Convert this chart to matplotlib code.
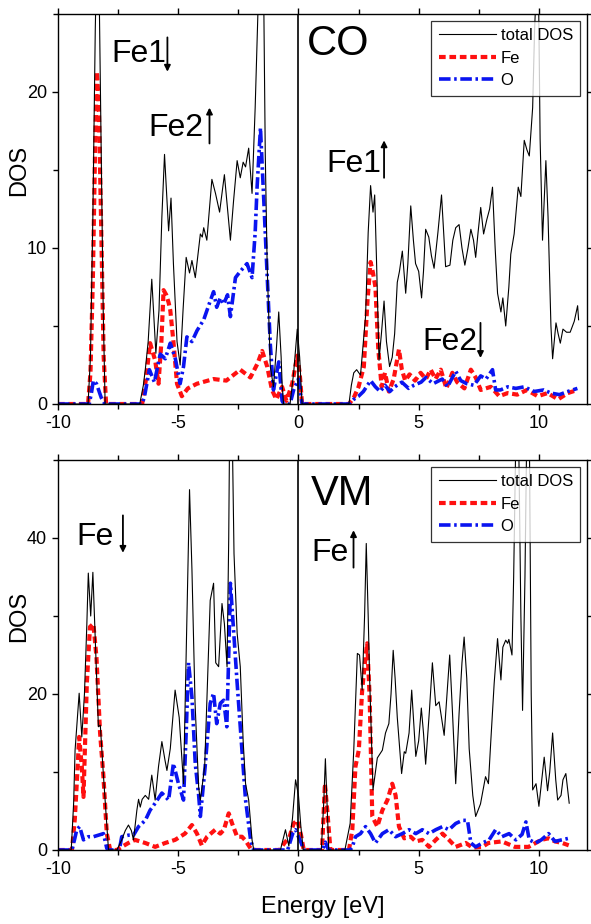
import matplotlib
matplotlib.use("Agg")
import matplotlib.pyplot as plt
from matplotlib.ticker import MultipleLocator

plt.rcParams['font.family'] = ['Liberation Sans', 'DejaVu Sans']
plt.rcParams['axes.unicode_minus'] = False

# ---------------- CO panel ----------------
co_total_E = [-10, -8.75, -8.65, -8.55, -8.45, -8.4, -8.3, -8.22, -8.12, -8.04, -6.6, -6.45, -6.37, -6.25, -6.1,
              -5.93, -5.8, -5.68, -5.57, -5.4, -5.3, -5.2, -5.05, -4.92, -4.8, -4.67, -4.53, -4.43, -4.29, -4.08,
              -4.0, -3.94, -3.81, -3.6, -3.45, -3.28, -3.08, -2.95, -2.83, -2.7, -2.55, -2.42, -2.3, -2.2, -2.07,
              -1.93, -1.8, -1.65, -1.45, -1.38, -1.3, -1.17, -1.04, -0.92, -0.82, -0.72, -0.68, -0.62, -0.35,
              -0.2, -0.05, 0.05, 0.15, 2.1, 2.2, 2.3, 2.42, 2.58, 2.79, 2.9, 3.0, 3.1, 3.17, 3.25, 3.35, 3.45,
              3.56, 3.66, 3.79, 3.9, 4.0, 4.11, 4.2, 4.32, 4.46, 4.55, 4.67, 4.78, 4.87, 5.0, 5.12, 5.2, 5.29,
              5.42, 5.53, 5.64, 5.8, 5.95, 6.12, 6.3, 6.42, 6.54, 6.68, 6.8, 6.92, 7.05, 7.17, 7.28, 7.37, 7.47,
              7.58, 7.7, 7.83, 7.95, 8.07, 8.18, 8.28, 8.42, 8.5, 8.62, 8.75, 8.83, 8.97, 9.14, 9.25, 9.39, 9.5,
              9.6, 9.74, 9.82, 9.9, 9.98, 10.05, 10.15, 10.22, 10.29, 10.38, 10.5, 10.57, 10.71, 10.8, 10.89,
              11.0, 11.15, 11.3, 11.47, 11.61, 11.65]
co_total_D = [0, 0, 3, 12, 24, 28, 28, 18, 6, 0, 0, 1.2, 2.2, 4, 8.0,
              3.25, 6, 12, 16.0, 11.1, 13.2, 9, 4, 2.5, 6, 9.4, 8.4, 9.2, 8.1, 10.9,
              10.7, 11.3, 10.5, 14.4, 13.5, 12.3, 14.7, 12.5, 10.5, 13, 15.6, 14.5, 15.5, 15.2, 16.4,
              13.5, 19, 27, 27, 16, 8.8, 2.4, 1.1, 3.5, 5.9, 3, 1.3, 0, 0,
              2, 4.8, 3, 0, 0, 1.2, 2.0, 2.2, 1.85, 5.6, 11, 14.0, 12.3, 13.4, 9, 2.8, 4.5,
              6.6, 4, 2.4, 3, 4.5, 7.8, 8.5, 9.8, 7.1, 9, 12.7, 10.5, 9.0, 8.5, 6.8, 8.5, 11.2,
              10.7, 9.5, 8.7, 11, 13.4, 8.8, 8.9, 10.5, 11.3, 11.5, 10, 8.9, 10, 11.2, 10.5, 9.4, 11,
              12.6, 10.9, 11.8, 12.5, 13.9, 10, 7.1, 5.9, 6.8, 5.0, 7.5, 9.6, 10.9, 13.9, 13.3, 16.9, 16.3,
              15.9, 19.0, 24, 27, 27, 17, 10.5, 13, 15.6, 12, 5, 2.9, 5.2, 4.5, 3.9,
              4.8, 4.6, 4.6, 5.3, 6.3, 5.4]

co_fe_E = [-10, -8.75, -8.65, -8.55, -8.45, -8.38, -8.3, -8.2, -8.1, -8.0, -6.5, -6.35, -6.17, -5.96, -5.82,
           -5.7, -5.61, -5.5, -5.4, -5.33, -5.2, -5.05, -4.85, -4.6, -4.22, -3.53, -3.0, -2.42, -2.0, -1.7,
           -1.51, -1.3, -1.1, -0.92, -0.68, -0.5, -0.26, -0.05, 0.05, 0.15, 2.1, 2.3, 2.5, 2.72, 2.87, 3.0,
           3.1, 3.2, 3.32, 3.46, 3.6, 3.76, 3.96, 4.18, 4.3, 4.44, 4.62, 4.85, 5.08, 5.3, 5.5, 5.7, 5.92,
           6.15, 6.4, 6.6, 6.9, 7.17, 7.37, 7.58, 8.0, 8.35, 8.7, 9.1, 9.5, 9.95, 10.36, 10.8, 11.2, 11.6]
co_fe_D = [0, 0, 2, 8, 17, 21.3, 19, 11, 3, 0, 0, 1.5, 3.9, 2.8, 1.3,
           4, 7.3, 7, 6.5, 6.0, 4, 1.3, 0.5, 1.0, 1.3, 1.6, 1.5, 2.2, 1.7, 2.6,
           3.4, 2.4, 0.9, 0.3, 1.1, 0.2, 1.3, 3.1, 2, 0, 0, 0.4, 1.1, 2.4, 6.6, 9.1,
           8.4, 7.5, 3.5, 1.1, 2.0, 0.8, 1.6, 3.5, 2.2, 1.5, 1.9, 1.5, 2.0, 1.6, 2.2, 1.6, 2.2,
           1.0, 2.0, 1.4, 1.0, 2.2, 1.7, 0.9, 1.1, 0.5, 0.7, 0.6, 0.9, 0.5, 0.7, 0.3, 0.7, 0.9]

co_o_E = [-10, -8.7, -8.6, -8.53, -8.4, -8.2, -8.05, -6.5, -6.4, -6.2, -5.99, -5.75, -5.54, -5.33, -5.12,
          -4.92, -4.78, -4.64, -4.43, -4.22, -3.94, -3.67, -3.53, -3.4, -3.25, -3.11, -2.95, -2.83, -2.62,
          -2.42, -2.14, -1.93, -1.8, -1.72, -1.58, -1.44, -1.3, -1.17, -1.04, -0.82, -0.68, -0.6, -0.35,
          -0.2, 0.0, 0.15, 2.1, 2.3, 2.5, 2.7, 3.0, 3.2, 3.4, 3.6, 3.8, 4.0, 4.3, 4.58, 4.8, 5.1, 5.3, 5.6,
          5.98, 6.2, 6.54, 6.75, 7.0, 7.3, 7.58, 7.8, 8.07, 8.2, 8.4, 8.7, 9.04, 9.39, 9.8, 10.2, 10.5,
          10.85, 11.2, 11.6]
co_o_D = [0, 0, 0.8, 1.5, 1.3, 0.4, 0, 0, 0.5, 2.2, 1.4, 3.2, 2.9, 3.9, 2.9,
          1.3, 2.4, 4.3, 4.0, 4.7, 5.4, 6.6, 7.2, 6.2, 6.8, 6.4, 7, 5.6, 8.1,
          8.5, 9.0, 8.1, 11, 13.9, 17.7, 13.0, 8.2, 3.8, 0.9, 2.7, 0.2, 0, 0,
          0.9, 1.6, 0, 0, 0.3, 0.5, 0.8, 1.5, 1.1, 0.8, 1.2, 0.8, 1.1, 1.4, 1.0, 1.2, 1.4, 1.7, 1.3,
          1.6, 1.1, 2.1, 1.5, 1.3, 1.2, 1.8, 1.6, 2.2, 0.9, 0.9, 1.1, 1.0, 1.1, 0.8, 0.9, 0.7,
          0.6, 0.8, 1.0]

# ---------------- VM panel ----------------
vm_total_E = [-10, -9.45, -9.35, -9.29, -9.12, -9.01, -8.9, -8.8, -8.74, -8.64, -8.55, -8.45, -8.32, -8.24,
              -8.12, -8.04, -7.9, -7.55, -7.35, -7.2, -7.07, -6.95, -6.86, -6.72, -6.65, -6.58, -6.5, -6.37,
              -6.23, -6.1, -5.96, -5.82, -5.68, -5.55, -5.47, -5.33, -5.13, -4.96, -4.78, -4.67, -4.53, -4.43,
              -4.3, -4.15, -4.08, -3.9, -3.8, -3.67, -3.53, -3.44, -3.32, -3.18, -3.08, -2.97, -2.9, -2.86,
              -2.76, -2.68, -2.55, -2.42, -2.3, -2.2, -2.07, -1.93, -1.86, -0.75, -0.54, -0.4, -0.25, -0.12,
              0.0, 0.1, 0.2, 0.95, 1.05, 1.12, 1.2, 1.26, 1.93, 2.15, 2.3, 2.45, 2.54, 2.65, 2.75, 2.82, 2.9,
              2.96, 3.1, 3.2, 3.28, 3.49, 3.62, 3.76, 3.85, 3.94, 4.02, 4.11, 4.29, 4.4, 4.46, 4.6, 4.71, 4.8,
              4.88, 5.0, 5.11, 5.2, 5.29, 5.45, 5.57, 5.71, 5.85, 6.06, 6.18, 6.29, 6.4, 6.54, 6.68, 6.8, 6.89,
              7.0, 7.1, 7.25, 7.37, 7.57, 7.78, 7.9, 8.0, 8.14, 8.28, 8.42, 8.5, 8.62, 8.7, 8.75, 8.88, 8.95,
              9.05, 9.15, 9.25, 9.32, 9.42, 9.5, 9.6, 9.68, 9.74, 9.88, 10.0, 10.12, 10.22, 10.36, 10.45,
              10.57, 10.7, 10.78, 10.92, 11.0, 11.12, 11.26]
vm_total_D = [0, 0, 6, 12.8, 20.1, 14.5, 20, 29, 35.5, 30, 35.6, 27, 15.8, 16,
              10, 6.4, 0, 0, 1.3, 2.5, 3.2, 2.5, 1.3, 5.1, 6.5, 5.5, 6.5, 7.0,
              6.5, 9.6, 6.4, 10.7, 13.9, 11.5, 10.2, 13, 20.5, 17, 8.5, 25, 46.2, 36,
              18.8, 8, 6.4, 10.7, 20, 32, 34.2, 24, 23.5, 31.6, 29, 23.5, 40, 55,
              55, 38, 27.8, 23.5, 14, 8.5, 6.4, 1.3, 0, 0, 2.6, 0.5, 4, 9.0,
              7, 3, 0, 0, 6, 11.7, 5, 0, 0, 3.4, 12.8, 25.2, 25, 20.5, 30, 39.3, 30,
              22, 7.7, 10, 11.8, 12.8, 15, 16.2, 20, 25.6, 22, 17, 9.8, 12.6, 12.4, 15, 20.5, 16,
              12, 14, 18.2, 15, 11, 18, 24, 18.5, 19, 14.7, 20, 25, 18, 8.5, 17.5, 24, 27.3,
              22, 13, 7, 4.3, 5.9, 9.4, 8.5, 14, 21.4, 27.1, 21.8, 26, 26.9, 26.5, 27, 25, 35,
              55, 55, 30, 17.9, 35, 55, 55, 20, 7.7, 8.5, 5.6, 9, 11.9, 7.6, 10,
              15, 9, 6.4, 7, 9, 9.8, 6.0]

vm_fe_E = [-10, -9.42, -9.3, -9.22, -9.12, -9.01, -8.94, -8.8, -8.67, -8.53, -8.4, -8.25, -8.11, -7.97, -7.83,
           -7.55, -7.35, -7.07, -6.8, -6.37, -5.96, -5.54, -5.13, -4.72, -4.43, -4.22, -4.02, -3.8, -3.46,
           -3.25, -3.1, -2.9, -2.76, -2.55, -2.35, -2.2, -1.99, -1.8, -0.78, -0.58, -0.37, -0.2, -0.05, 0.1,
           0.22, 0.98, 1.06, 1.1, 1.2, 1.33, 2.1, 2.24, 2.37, 2.51, 2.65, 2.79, 2.86, 2.96, 3.07, 3.28, 3.49,
           3.7, 3.9, 4.04, 4.18, 4.4, 4.67, 4.88, 5.15, 5.43, 5.71, 5.99, 6.26, 6.54, 6.96, 7.24, 7.65, 7.9,
           8.46, 9.0, 9.57, 9.86, 10.1, 10.4, 10.67, 10.97, 11.24]
vm_fe_D = [0, 0, 4, 8.5, 14.5, 10.7, 6.8, 21.4, 28.6, 29, 24.7, 15, 9.4, 2.1, 0,
           0, 0.4, 0.9, 1.3, 0.9, 0.4, 0.9, 1.3, 2.1, 3.2, 2.1, 0.6, 1.7, 2.6,
           2.1, 2.6, 4.7, 3.4, 1.7, 1.7, 1.2, 0.2, 0, 0, 0.9, 1.7, 3.4, 3.8, 2,
           0, 0, 5.6, 8.5, 5, 0, 0, 2.6, 10.7, 12.8, 20.5, 24.8, 26.5, 19.7, 4.3, 3.0, 5.1,
           6.4, 8.5, 7.0, 3.0, 1.5, 1.7, 1.1, 1.3, 0.4, 1.3, 2.1, 1.3, 0.4, 0.9, 0.3, 0.4, 0.9,
           1.1, 0.4, 0.4, 0.9, 1.3, 1.5, 1.1, 0.9, 0.6]

vm_o_E = [-10, -9.42, -9.3, -9.22, -9.1, -8.94, -8.74, -8.53, -8.32, -8.11, -7.97, -7.9, -7.45, -7.35, -7.07,
          -6.86, -6.65, -6.37, -6.17, -5.96, -5.68, -5.4, -5.2, -4.99, -4.78, -4.67, -4.57, -4.43, -4.29,
          -4.15, -4.08, -3.88, -3.67, -3.53, -3.4, -3.25, -3.11, -2.98, -2.9, -2.83, -2.69, -2.55, -2.35,
          -2.2, -1.99, -1.86, -0.45, -0.24, -0.12, 0.0, 0.1, 0.22, 1.0, 1.12, 1.25, 2.15, 2.24, 2.37, 2.58,
          2.79, 3.0, 3.2, 3.49, 3.76, 4.04, 4.32, 4.6, 4.88, 5.15, 5.43, 5.71, 5.99, 6.26, 6.54, 6.82, 7.03,
          7.17, 7.37, 7.65, 7.93, 8.2, 8.46, 8.76, 9.04, 9.3, 9.46, 9.6, 9.86, 10.1, 10.4, 10.67, 10.95, 11.24]
vm_o_D = [0, 0, 1.5, 2.6, 3.0, 1.3, 1.7, 1.7, 1.9, 2.1, 0.2, 0, 0, 1.7, 1.9,
          1.9, 3.0, 3.8, 5.1, 6.0, 7.3, 6.4, 11.1, 8.5, 6.4, 15, 24, 19.6, 11,
          7, 4.3, 10.7, 18.8, 20.1, 16.2, 18.8, 19.2, 15.8, 25, 34.2, 27.8, 21.4, 12.8,
          6.4, 1.3, 0, 0, 2.1, 2.6, 1.7, 1, 0, 0, 1.0, 0, 0, 0.4, 1.7, 2.1,
          3.0, 2.1, 0.9, 2.1, 2.6, 1.7, 2.1, 2.6, 2.1, 2.6, 2.1, 2.6, 3.0, 2.6, 3.4, 3.8, 3.8,
          0.9, 0.4, 0.9, 1.3, 2.6, 1.7, 2.1, 1.3, 2.0, 3.6, 1.3, 0.9, 1.3, 2.1, 1.1, 1.3, 1.5]

series_labels = ["total DOS", "Fe", "O"]
x_ticks = [-10, -5, 0, 5, 10]

fig = plt.figure(figsize=(5.91, 9.24), dpi=100)
ax1 = fig.add_axes([58/591, 1-404/924, 529/591, 390/924])
ax2 = fig.add_axes([58/591, 1-850/924, 529/591, 390/924])


def style(ax, total_E, total_D, fe_E, fe_D, o_E, o_D, ymax, ymajor):
    ax.plot(total_E, total_D, color='black', lw=0.8, label=series_labels[0], zorder=3)
    ax.plot(fe_E, fe_D, color='#ff1010', lw=3.0, dashes=[1.6, 0.9], label=series_labels[1], zorder=2)
    ax.plot(o_E, o_D, color='#0a14f0', lw=2.6, dashes=[3.2, 1.0, 0.7, 1.0], label=series_labels[2], zorder=2)
    ax.axvline(0, color='black', lw=1.2, zorder=4)
    ax.set_xlim(-10, 12)
    ax.set_ylim(0, ymax)
    ax.set_xticks(x_ticks)
    ax.xaxis.set_minor_locator(MultipleLocator(2.5))
    ax.yaxis.set_major_locator(MultipleLocator(ymajor))
    ax.yaxis.set_minor_locator(MultipleLocator(ymajor/2))
    ax.tick_params(which='both', direction='out', top=True, right=True, labelsize=13, width=1.0)
    ax.tick_params(which='major', length=4.5)
    ax.tick_params(which='minor', length=3.5)
    for s in ax.spines.values():
        s.set_linewidth(1.0)
    ax.set_ylabel("DOS", fontsize=17)
    ax.yaxis.set_label_coords(-0.052, 0.6)
    leg = ax.legend(loc='upper right', fontsize=12, frameon=True, fancybox=False,
                    edgecolor='black', handlelength=3.4, handletextpad=0.3,
                    labelspacing=0.45, borderpad=0.45, borderaxespad=0.4)
    leg.get_frame().set_linewidth(0.9)
    leg.set_zorder(10)


def arrow(ax, x, y0, y1):
    ax.annotate('', xy=(x, y1), xytext=(x, y0),
                arrowprops=dict(arrowstyle='-|>', color='black', lw=1.3, mutation_scale=9,
                                shrinkA=0, shrinkB=0), zorder=6)


style(ax1, co_total_E, co_total_D, co_fe_E, co_fe_D, co_o_E, co_o_D, 25, 10)
style(ax2, vm_total_E, vm_total_D, vm_fe_E, vm_fe_D, vm_o_E, vm_o_D, 50, 20)

# annotations CO
ax1.text(0.33, 22.4, "CO", fontsize=30, ha='left', va='baseline')
ax1.text(-7.78, 21.9, "Fe1", fontsize=23, ha='left', va='baseline')
arrow(ax1, -5.45, 23.5, 21.3)
ax1.text(-6.24, 17.2, "Fe2", fontsize=23, ha='left', va='baseline')
arrow(ax1, -3.7, 16.7, 19.0)
ax1.text(1.16, 14.9, "Fe1", fontsize=23, ha='left', va='baseline')
arrow(ax1, 3.56, 14.5, 16.9)
ax1.text(5.14, 3.46, "Fe2", fontsize=23, ha='left', va='baseline')
arrow(ax1, 7.57, 5.2, 2.95)

# annotations VM
ax2.text(0.53, 44.2, "VM", fontsize=30, ha='left', va='baseline')
ax2.text(-9.24, 39.1, "Fe", fontsize=23, ha='left', va='baseline')
arrow(ax2, -7.3, 42.9, 38.1)
ax2.text(0.53, 37.1, "Fe", fontsize=23, ha='left', va='baseline')
arrow(ax2, 2.29, 36.2, 41.0)

ax2.set_xlabel("Energy [eV]", fontsize=17, labelpad=13)

fig.savefig("out.png", dpi=100)
